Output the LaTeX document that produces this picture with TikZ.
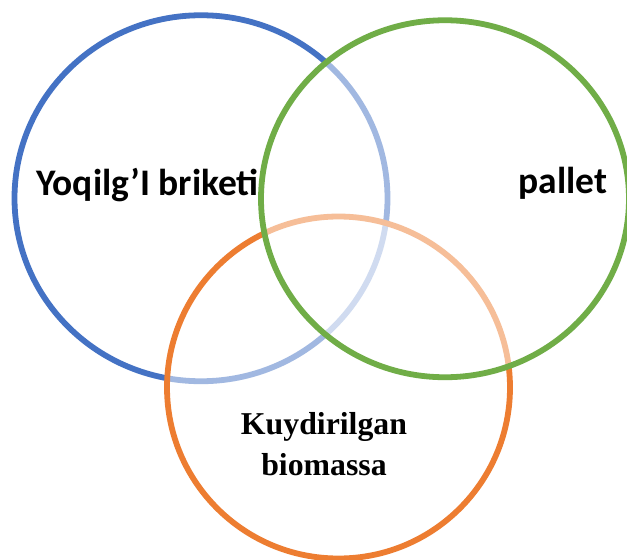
\documentclass[tikz,border=0pt]{standalone}
\usepackage{fontspec}
\setmainfont{Liberation Serif}
\newfontfamily\calib{Carlito}
\definecolor{cblue}{HTML}{4472C4}
\definecolor{corange}{HTML}{ED7D31}
\definecolor{cgreen}{HTML}{70AD47}
\begin{document}
\begin{tikzpicture}[x=1pt,y=-1pt,
  ring/.style={line width=5.8pt},
  veil/.style={fill=white,fill opacity=0.5},
  lblsans/.style={font=\calib\bfseries\fontsize{37.5}{44}\selectfont,anchor=base,inner sep=0pt},
  lblserif/.style={font=\bfseries\fontsize{31.8}{41.4}\selectfont,align=center,inner sep=0pt}]
\useasboundingbox (0,0) rectangle (627,560);
\fill[white] (0,0) rectangle (627,560);
\draw[ring,cblue] (201,198.25) ellipse [x radius=186.5, y radius=183];
\draw[ring,corange,veil] (338.5,387.5) ellipse [x radius=171.5, y radius=171];
\draw[ring,cgreen,veil] (445,198.75) ellipse [x radius=184, y radius=178.5];
\node[lblsans] (a) at (147.5,195) {Yoqilg’I briketi};
\node[lblsans] (b) at (563,193) {pallet};
\node[lblserif,anchor=base] (c) at (324,475.7) {Kuydirilgan\\biomassa};
\end{tikzpicture}
\end{document}
